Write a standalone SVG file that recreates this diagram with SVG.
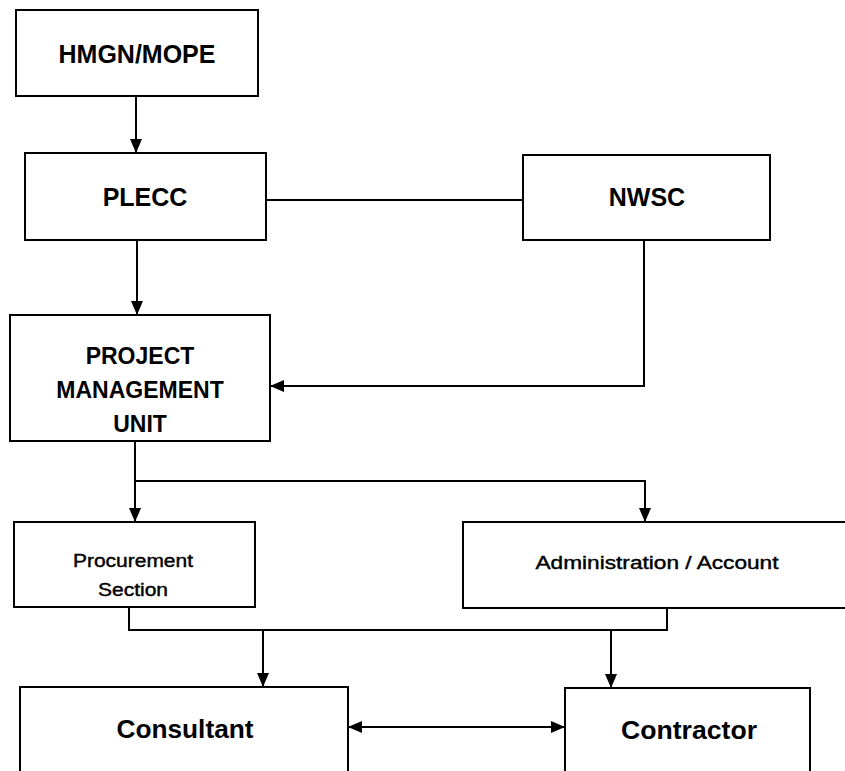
<svg xmlns="http://www.w3.org/2000/svg" width="845" height="771" viewBox="0 0 845 771">
<defs>
<marker id="ah" markerUnits="userSpaceOnUse" markerWidth="14" markerHeight="14" viewBox="0 0 14 14" refX="14" refY="7" orient="auto-start-reverse">
<path d="M0,1 L14,7 L0,13 Z" fill="#000"/>
</marker>
</defs>
<style>
.box{fill:#fff;stroke:#000;stroke-width:2}
.ln{fill:none;stroke:#000;stroke-width:2}
.big{font-family:"Liberation Sans",Arial,sans-serif;font-weight:bold;font-size:25px;text-anchor:middle;fill:#000}
.mid{font-family:"Liberation Sans",Arial,sans-serif;font-weight:bold;font-size:23px;text-anchor:middle;fill:#000}
.sm{font-family:"Liberation Sans",Arial,sans-serif;font-weight:normal;font-size:17.5px;text-anchor:middle;fill:#000;stroke:#000;stroke-width:0.4}
</style>
<rect width="845" height="771" fill="#fff"/>
<g id="connectors">
<path class="ln" d="M136,96 V153" marker-end="url(#ah)"/>
<path class="ln" d="M266,200 H523"/>
<path class="ln" d="M137,240 V315" marker-end="url(#ah)"/>
<path class="ln" d="M644,240 V386 H270" marker-end="url(#ah)"/>
<path class="ln" d="M135,441 V522" marker-end="url(#ah)"/>
<path class="ln" d="M135,481 H645 V522" marker-end="url(#ah)"/>
<path class="ln" d="M129,607 V630 H667 V608"/>
<path class="ln" d="M263,630 V687" marker-end="url(#ah)"/>
<path class="ln" d="M611,630 V688" marker-end="url(#ah)"/>
<path class="ln" d="M348,727 H565" marker-start="url(#ah)" marker-end="url(#ah)"/>
</g>
<g id="hmgn">
<rect class="box" x="16" y="10" width="242" height="86"/>
<text class="big" x="137" y="63">HMGN/MOPE</text>
</g>
<g id="plecc">
<rect class="box" x="25" y="153" width="241" height="87"/>
<text class="big" x="145" y="206">PLECC</text>
</g>
<g id="nwsc">
<rect class="box" x="523" y="155" width="247" height="85"/>
<text class="big" x="647" y="206">NWSC</text>
</g>
<g id="pmu">
<rect class="box" x="10" y="315" width="260" height="126"/>
<text class="mid" x="140" y="364">PROJECT</text>
<text class="mid" x="140" y="398">MANAGEMENT</text>
<text class="mid" x="140" y="432">UNIT</text>
</g>
<g id="procurement">
<rect class="box" x="14" y="522" width="241" height="85"/>
<text class="sm" x="133" y="567" textLength="120" lengthAdjust="spacingAndGlyphs">Procurement</text>
<text class="sm" x="133" y="596" textLength="70" lengthAdjust="spacingAndGlyphs">Section</text>
</g>
<g id="admin">
<rect class="box" x="463" y="522" width="400" height="86"/>
<text class="sm" x="657" y="569" textLength="243" lengthAdjust="spacingAndGlyphs">Administration / Account</text>
</g>
<g id="consultant">
<rect class="box" x="20" y="687" width="328" height="100"/>
<text class="big" x="185" y="738" textLength="137" lengthAdjust="spacingAndGlyphs">Consultant</text>
</g>
<g id="contractor">
<rect class="box" x="565" y="688" width="245" height="100"/>
<text class="big" x="689" y="739" textLength="136" lengthAdjust="spacingAndGlyphs">Contractor</text>
</g>
</svg>
